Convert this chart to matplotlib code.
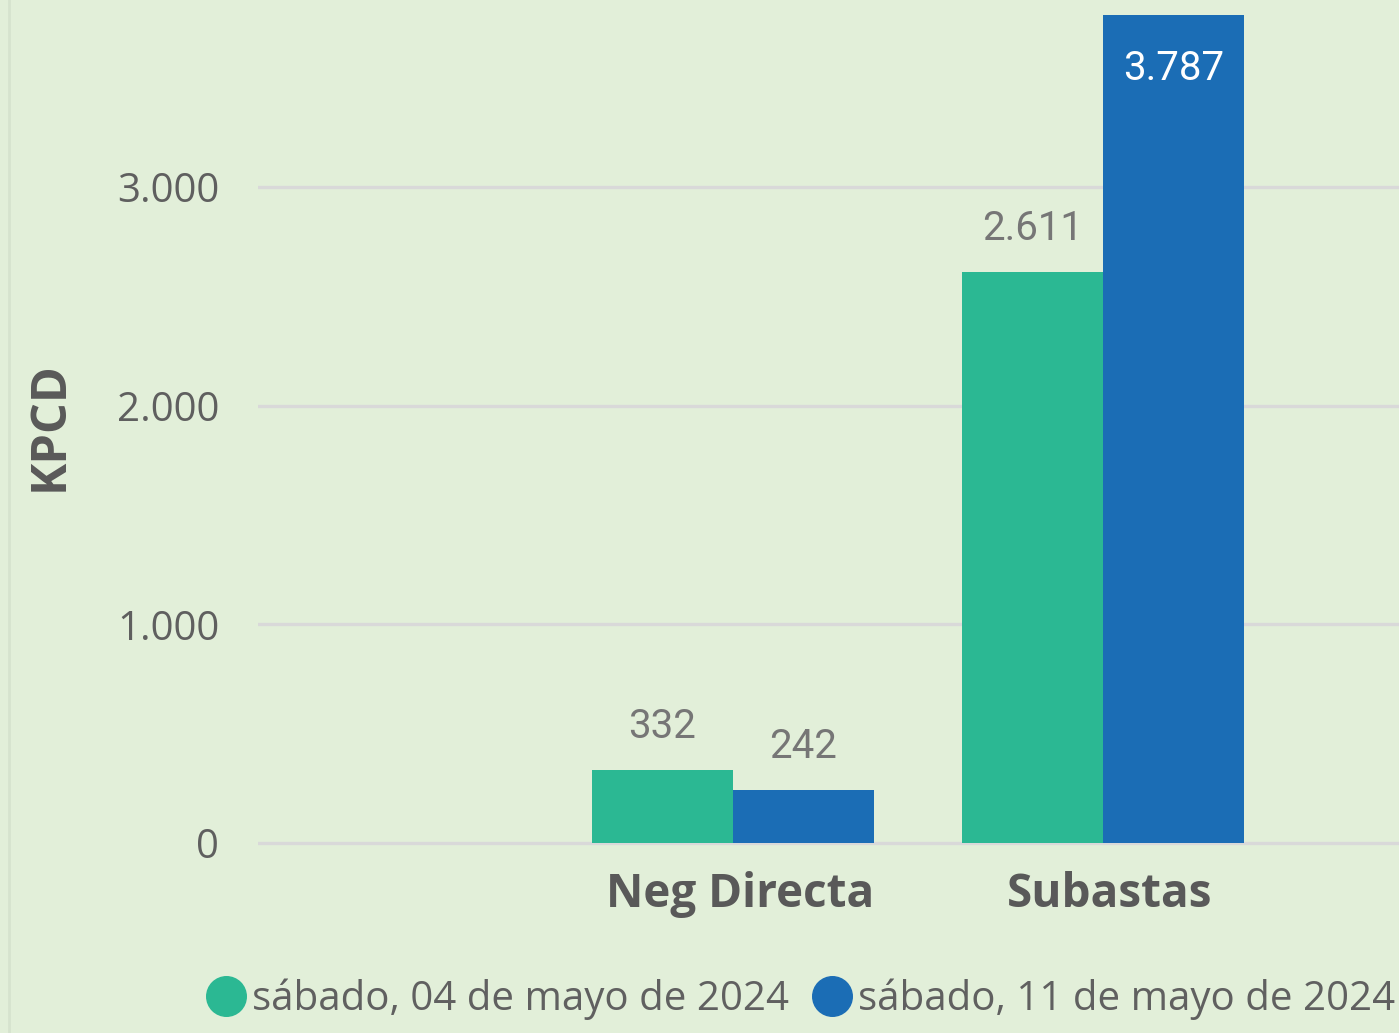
import matplotlib
matplotlib.use("Agg")
import matplotlib.pyplot as plt
import matplotlib.transforms as mtransforms
from matplotlib.lines import Line2D
import numpy as np

categories = ["Neg Directa", "Subastas"]
series_names = ["sábado, 04 de mayo de 2024", "sábado, 11 de mayo de 2024"]
values_0405 = [332, 2611]
values_1105 = [242, 3787]
labels_0405 = ["332", "2.611"]
labels_1105 = ["242", "3.787"]
yticks = [0, 1000, 2000, 3000]
ytick_labels = ["0", "1.000", "2.000", "3.000"]

BG = "#E2EFD9"
GREEN = "#2BB893"
BLUE = "#1B6DB5"
W, H = 1399, 1033

fig = plt.figure(figsize=(W / 100, H / 100), dpi=100, facecolor=BG)
px_per_unit = 218.67 / 1000.0
ax_bottom_px = 853
ax_top_px = 0
ax = fig.add_axes([258 / W, (H - ax_bottom_px) / H, (W - 258) / W, (ax_bottom_px - ax_top_px) / H])
ax.set_facecolor(BG)
ylo = -(ax_bottom_px - 843) / px_per_unit
yhi = 843 / px_per_unit
ax.set_ylim(ylo, yhi)
ax.set_xlim((258 - 733) / 370, (1399 - 733) / 370)

x = np.arange(len(categories))
bw = 141 / 370
b1 = ax.bar(x - bw / 2, values_0405, bw, color=GREEN, zorder=3)
b2 = ax.bar(x + bw / 2, values_1105, bw, color=BLUE, zorder=3)

for spine in ax.spines.values():
    spine.set_visible(False)
ax.set_yticks(yticks)
ax.set_yticklabels(ytick_labels, fontsize=29, color="#5F5F5F", family="Open Sans")
ax.tick_params(axis="y", length=0, pad=28)
for t in yticks:
    ax.axhline(t, color="#D9D9D9", lw=2.4, zorder=1)
ax.set_xticks(x)
ax.set_xticklabels(categories, fontsize=33, fontweight="bold", color="#595959", family="Open Sans")
ax.tick_params(axis="x", length=0, pad=13)
shift = mtransforms.ScaledTranslation(7 / 100, 0, fig.dpi_scale_trans)
for lab in ax.get_xticklabels():
    lab.set_transform(lab.get_transform() + shift)
ax.set_ylabel("KPCD", fontsize=35, fontweight="bold", color="#595959", family="Open Sans", labelpad=30)

label_font = dict(fontsize=29, family="Roboto", color="#767676", ha="center")
for xi, v, lab in zip(x - bw / 2, values_0405, labels_0405):
    ax.annotate(lab, (xi, v), xytext=(0, 32), textcoords="offset pixels", va="baseline", **label_font)
for xi, v, lab in zip(x + bw / 2, values_1105, labels_1105):
    if v > 3500:
        ax.annotate(lab, (xi, v), xytext=(0, -65), textcoords="offset pixels", va="baseline",
                    fontsize=29, family="Roboto", color="white", ha="center")
    else:
        ax.annotate(lab, (xi, v), xytext=(0, 32), textcoords="offset pixels", va="baseline", **label_font)

handles = [Line2D([], [], ls="none", marker="o", markersize=28.5, color=GREEN),
           Line2D([], [], ls="none", marker="o", markersize=28.5, color=BLUE)]
leg = fig.legend(handles, series_names, loc="center left", bbox_to_anchor=(206 / W, (H - 999) / H),
                 ncol=2, frameon=False, handlelength=1.0, handletextpad=0.15, columnspacing=0.55,
                 prop={"family": "Open Sans", "size": 29}, borderaxespad=0, borderpad=0)
for t in leg.get_texts():
    t.set_color("#606060")

fig.add_artist(Line2D([9 / W, 9 / W], [0, 1], color="#D6E3CE", lw=2))

fig.savefig("out.png", dpi=100, facecolor=BG)
